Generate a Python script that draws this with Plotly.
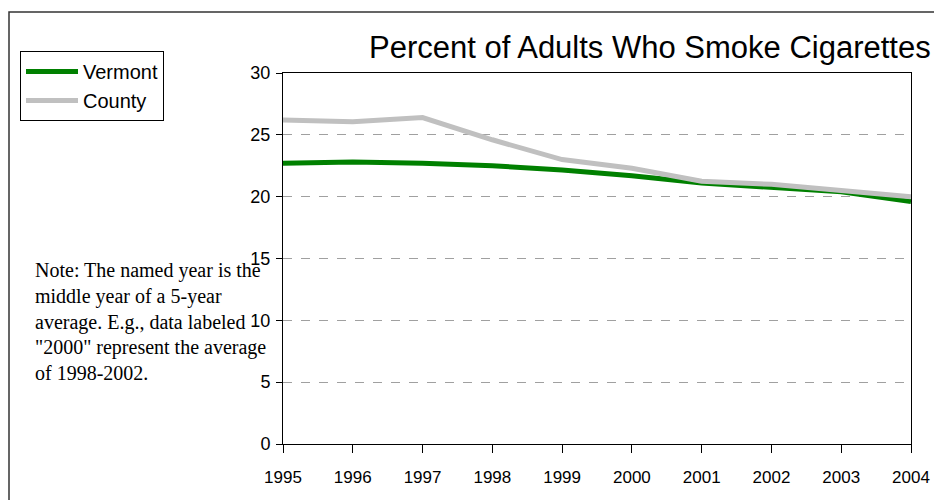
import plotly.graph_objects as go

years = [1995, 1996, 1997, 1998, 1999, 2000, 2001, 2002, 2003, 2004]
vermont = [22.7, 22.8, 22.7, 22.5, 22.15, 21.7, 21.1, 20.75, 20.4, 19.6]
county = [26.2, 26.05, 26.4, 24.6, 23.0, 22.3, 21.25, 21.0, 20.5, 20.0]
y_ticks = [0, 5, 10, 15, 20, 25, 30]
title_text = "Percent of Adults Who Smoke Cigarettes"
note_lines = [
    "Note: The named year is the",
    "middle year of a 5-year",
    "average. E.g., data labeled",
    "\"2000\" represent the average",
    "of 1998-2002.",
]

# page body has an 8px margin, so the figure sits at (8, 8) on screen
OFF = 8
W, H = 942, 500
L = 283 - OFF
T = 73 - OFF
R = W - (911 - OFF)
B = H - (444 - OFF)
pw, ph = W - L - R, H - T - B


def px(x):
    return (x - OFF - L) / pw


def py(y):
    return (H - B - (y - OFF)) / ph


fig = go.Figure()
fig.add_trace(go.Scatter(x=years, y=vermont, mode="lines", name="Vermont",
                         line=dict(color="#008000", width=5)))
fig.add_trace(go.Scatter(x=years, y=county, mode="lines", name="County",
                         line=dict(color="#c0c0c0", width=5)))

font_sans = "Liberation Sans, Arial, sans-serif"
font_serif = "Liberation Serif, Times New Roman, serif"

annotations = [dict(text=title_text, x=px(933), y=py(47), xref="paper", yref="paper",
                    xanchor="right", yanchor="middle", showarrow=False,
                    font=dict(family=font_sans, size=31, color="black"))]
note_y = [270, 296, 322, 347, 373]
for t, yy in zip(note_lines, note_y):
    annotations.append(dict(text=t, x=px(33), y=py(yy), xref="paper", yref="paper",
                            xanchor="left", yanchor="middle", showarrow=False,
                            font=dict(family=font_serif, size=20, color="black")))

fig.update_layout(
    width=W, height=H,
    margin=dict(l=L, r=R, t=T, b=B),
    paper_bgcolor="white", plot_bgcolor="white",
    font=dict(family=font_sans, size=17, color="black"),
    showlegend=True,
    legend=dict(x=px(20), y=py(51), xanchor="left", yanchor="top",
                bordercolor="black", borderwidth=1, bgcolor="white",
                font=dict(family=font_sans, size=20, color="black"),
                tracegroupgap=0, itemwidth=52),
    xaxis=dict(range=[1995, 2004], tickvals=years, ticktext=[str(y) for y in years],
               showgrid=False, zeroline=False, showline=True, linecolor="black",
               linewidth=1, mirror=True, ticks="outside", ticklen=8, tickcolor="black",
               ticklabelstandoff=10, tickfont=dict(size=17)),
    yaxis=dict(range=[0, 30], tickvals=y_ticks, showgrid=True, gridcolor="#a0a0a0",
               griddash="dash", gridwidth=1, zeroline=False, showline=True,
               linecolor="black", linewidth=1, mirror=True, ticks="outside",
               ticklen=6, tickcolor="black", ticklabelstandoff=2,
               tickfont=dict(size=18)),
    annotations=annotations,
    shapes=[dict(type="rect", xref="paper", yref="paper",
                 x0=px(9), x1=px(980), y0=py(540), y1=py(12),
                 line=dict(color="#333333", width=1.5), layer="below")],
)

fig.write_html("out.html")
